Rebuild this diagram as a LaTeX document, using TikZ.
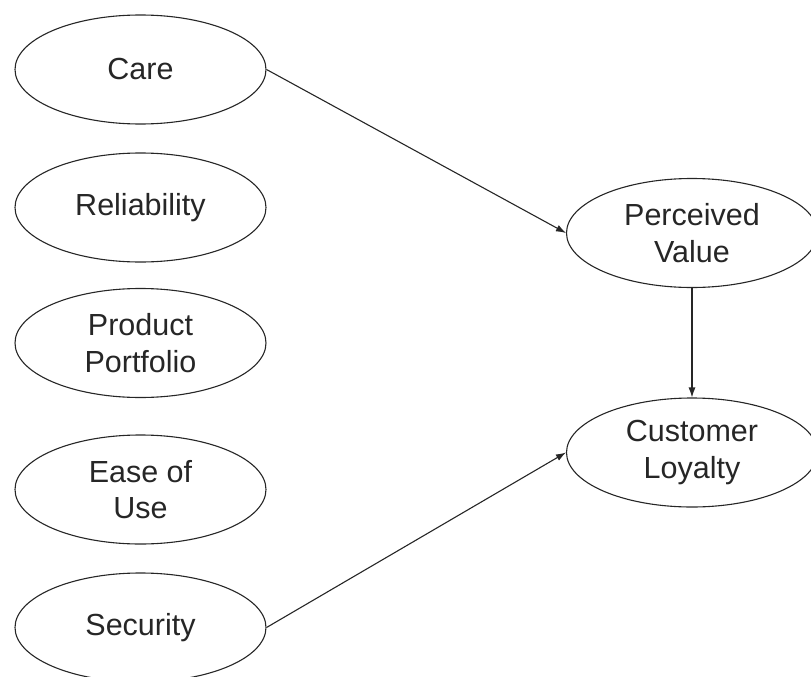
\documentclass[tikz,border=0pt]{standalone}
\usepackage{fontspec}
\setmainfont{Liberation Sans}
\usetikzlibrary{shapes.geometric,arrows.meta}
\begin{document}
\begin{tikzpicture}[x=1pt,y=-1pt,
  oval/.style={ellipse,draw=black!85,line width=1.1pt,minimum width=251pt,minimum height=109pt,inner sep=0pt,align=center,font=\fontsize{30.5}{36.5}\selectfont,text=black!85},
  conn/.style={draw=black!85,line width=1.1pt,-{Latex[length=10pt,width=7pt]}}]
\clip (0,0) rectangle (811,677);
\useasboundingbox (0,0) rectangle (811,677);
\node[oval] (care) at (140.5,69.5) {Care};
\node[oval] (rel) at (140.5,207.5) {Reliability};
\node[oval] (pp) at (140.5,343) {Product\\Portfolio};
\node[oval] (ease) at (140.5,489.5) {Ease of\\Use};
\node[oval] (sec) at (140.5,627.5) {Security};
\node[oval] (pv) at (692,233) {Perceived\\Value};
\node[oval] (cl) at (692,452.5) {Customer\\Loyalty};
\draw[conn] (care.east) -- (pv.west);
\draw[conn] (pv.south) -- (cl.north);
\draw[conn] (sec.east) -- (cl.west);
\end{tikzpicture}
\end{document}
